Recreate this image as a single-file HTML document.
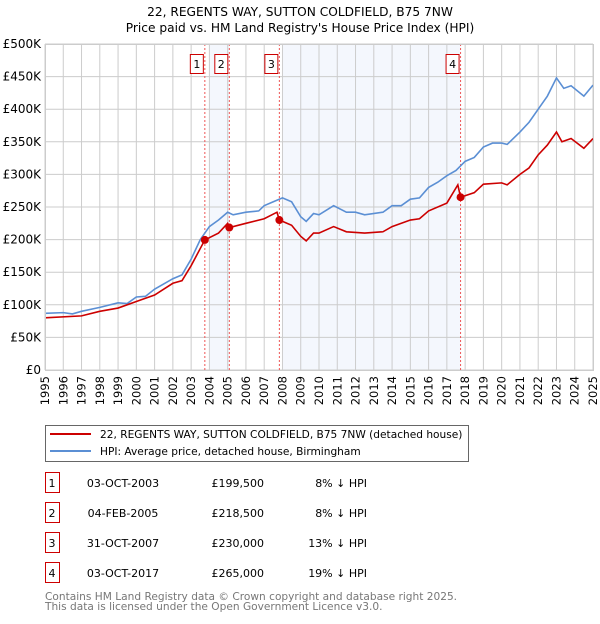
<!DOCTYPE html>
<html><head><meta charset="utf-8"><style>
body{margin:0;background:#fff;font-family:"DejaVu Sans","Liberation Sans",sans-serif;}
svg text{font-family:"DejaVu Sans","Liberation Sans",sans-serif;}
</style></head><body>
<svg id="c" width="600" height="620" xmlns="http://www.w3.org/2000/svg">
<text x="300" y="16" text-anchor="middle" font-size="12.2">22, REGENTS WAY, SUTTON COLDFIELD, B75 7NW</text>
<text x="300" y="32" text-anchor="middle" font-size="12.2">Price paid vs. HM Land Registry's House Price Index (HPI)</text>
<g id="plot"></g>
<g>
<rect x="45.5" y="425.5" width="423" height="36" fill="#fff" stroke="#666"/>
<line x1="50" y1="434" x2="91" y2="434" stroke="#cc0000" stroke-width="2"/>
<text x="100" y="438" font-size="10.6">22, REGENTS WAY, SUTTON COLDFIELD, B75 7NW (detached house)</text>
<line x1="50" y1="451" x2="91" y2="451" stroke="#5b8fd4" stroke-width="2"/>
<text x="100" y="455" font-size="10.6">HPI: Average price, detached house, Birmingham</text>
</g>
<g id="table" font-size="11"></g>
<text x="45" y="600" font-size="10.6" fill="#777">Contains HM Land Registry data © Crown copyright and database right 2025.</text>
<text x="45" y="610" font-size="10.6" fill="#777">This data is licensed under the Open Government Licence v3.0.</text>
</svg>
<script>
const hpiYears=[1995,1996,1996.5,1997,1998,1999,1999.5,2000,2000.5,2001,2002,2002.5,2003,2003.5,2004,2004.5,2005,2005.3,2006,2006.7,2007,2007.5,2008,2008.5,2009,2009.3,2009.7,2010,2010.8,2011.5,2012,2012.5,2013.5,2014,2014.5,2015,2015.5,2016,2016.5,2017,2017.5,2018,2018.5,2019,2019.5,2020,2020.3,2021,2021.5,2022,2022.5,2023,2023.4,2023.8,2024.5,2025];
const hpiValues=[87,88,86,90,96,103,102,112,113,124,140,146,170,200,220,230,242,238,242,244,252,258,264,258,235,228,240,238,252,242,242,238,242,252,252,262,264,280,288,298,306,320,326,342,348,348,346,365,380,400,420,448,432,436,420,437];
const propYears=[1995,1997,1998,1999,2000,2001,2002,2002.5,2003,2003.75,2004.5,2005,2005.1,2006,2007,2007.7,2007.83,2008.5,2009,2009.3,2009.7,2010,2010.8,2011.5,2012.5,2013.5,2014,2015,2015.5,2016,2017,2017.6,2017.75,2018.5,2019,2020,2020.3,2021,2021.5,2022,2022.5,2023,2023.3,2023.8,2024.5,2025];
const propValues=[80,83,90,95,105,115,133,137,160,199.5,210,225,218.5,225,232,242,230,222,205,198,210,210,220,212,210,212,220,230,232,244,256,284,265,272,285,287,284,300,310,330,345,365,350,355,340,355];
const saleYears=[2003.75,2005.09,2007.83,2017.75];
const saleValues=[199.5,218.5,230,265];
const saleLabels=["1","2","3","4"];
const saleDates=["03-OCT-2003","04-FEB-2005","31-OCT-2007","03-OCT-2017"];
const salePrices=["£199,500","£218,500","£230,000","£265,000"];
const salePct=["8% ↓ HPI","8% ↓ HPI","13% ↓ HPI","19% ↓ HPI"];
const yTicks=[0,50,100,150,200,250,300,350,400,450,500];
const yTickLabels=["£0","£50K","£100K","£150K","£200K","£250K","£300K","£350K","£400K","£450K","£500K"];
const xTicks=[1995,1996,1997,1998,1999,2000,2001,2002,2003,2004,2005,2006,2007,2008,2009,2010,2011,2012,2013,2014,2015,2016,2017,2018,2019,2020,2021,2022,2023,2024,2025];

const X0=45,X1=593,Y0=370,Y1=44;
const x=v=>X0+(v-1995)/30*(X1-X0);
const y=v=>Y0-v/500*(Y0-Y1);
const NS="http://www.w3.org/2000/svg";
const plot=document.getElementById('plot');
function mk(tag,attrs,parent){const e=document.createElementNS(NS,tag);for(const k in attrs)e.setAttribute(k,attrs[k]);(parent||plot).appendChild(e);return e;}

let e=mk('rect',{x:X0,y:Y1,width:X1-X0,height:Y0-Y1,fill:'#fff'});


e=mk('rect',{x:x(2004),y:Y1,width:x(saleYears[1])-x(2004),height:Y0-Y1,fill:'#f4f7fd'});


e=mk('rect',{x:x(2008),y:Y1,width:x(saleYears[3])-x(2008),height:Y0-Y1,fill:'#f4f7fd'});


xTicks.forEach(t=>{
 const g=mk('line',{x1:x(t),x2:x(t),y1:Y1,y2:Y0,stroke:'#cccccc','stroke-width':1});
 
 
 const tx=mk('text',{x:0,y:0,'font-size':11.5,'text-anchor':'end',transform:`translate(${x(t)+4},${Y0+6}) rotate(-90)`});
 tx.textContent=t;
 
 
});
yTicks.forEach((t,i)=>{
 const g=mk('line',{x1:X0,x2:X1,y1:y(t),y2:y(t),stroke:'#cccccc','stroke-width':1});
 
 
 const tx=mk('text',{x:X0-4,y:y(t)+4,'font-size':12,'text-anchor':'end'});
 tx.textContent=yTickLabels[i];
 
 
});
saleYears.forEach((s,i)=>{
 const l=mk('line',{x1:x(s),x2:x(s),y1:Y1,y2:Y0,stroke:'#ee5555','stroke-width':1,'stroke-dasharray':'2,2'});
 
 
 const b=mk('rect',{x:x(s)-14.5,y:54.5,width:13,height:19,fill:'#fff',stroke:'#cc0000'});
 
 
 const t=mk('text',{x:x(s)-8,y:68,'font-size':11,'text-anchor':'middle'});
 t.textContent=saleLabels[i];
 
 
});
const hp=mk('polyline',{points:hpiYears.map((v,i)=>x(v)+','+y(hpiValues[i])).join(' '),fill:'none',stroke:'#5b8fd4','stroke-width':1.6});


const pp=mk('polyline',{points:propYears.map((v,i)=>x(v)+','+y(propValues[i])).join(' '),fill:'none',stroke:'#cc0000','stroke-width':1.6});


saleYears.forEach((s,i)=>{
 const c=mk('circle',{cx:x(s),cy:y(saleValues[i]),r:4,fill:'#cc0000'});
 
 
});
e=mk('rect',{x:X0+.5,y:Y1+.5,width:X1-X0,height:Y0-Y1,fill:'none',stroke:'#cccccc'});



const tb=document.getElementById('table');
saleYears.forEach((s,i)=>{
 const cy=483+i*30;
 const b=mk('rect',{x:45.5,y:cy-10.5,width:14,height:20,fill:'#fff',stroke:'#cc0000'},tb);
 
 
 const cells=[[52,'middle',saleLabels[i]],[123,'middle',saleDates[i]],[264,'end',salePrices[i]],[367,'end',salePct[i]]];
 cells.forEach(c=>{
  const t=mk('text',{x:c[0],y:cy+4,'text-anchor':c[1]},tb);
  t.textContent=c[2];
  
  
 });
});
</script>
</body></html>
